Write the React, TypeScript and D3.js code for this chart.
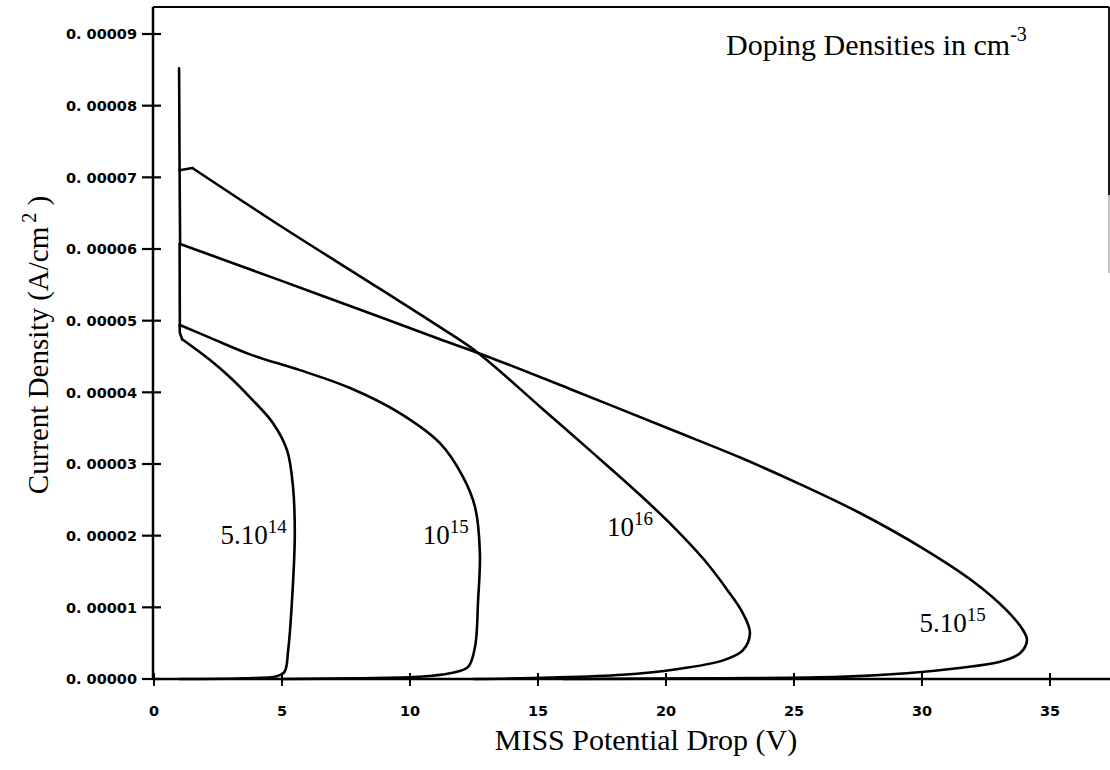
import React from "react";
import * as d3 from "d3";

// Tick values
const xTicks = [0, 5, 10, 15, 20, 25, 30, 35];
const yTicks = [0, 0.00001, 0.00002, 0.00003, 0.00004, 0.00005, 0.00006, 0.00007, 0.00008, 0.00009];
const yTickLabels = ["0. 00000", "0. 00001", "0. 00002", "0. 00003", "0. 00004", "0. 00005", "0. 00006", "0. 00007", "0. 00008", "0. 00009"];

// Curves: [V, A/cm2]
const curve5e14: [number, number][] = [
  [1.0, 4.94e-5], [1.01, 4.83e-5], [1.1, 4.74e-5], [2.19, 4.45e-5], [3.0, 4.2e-5], [3.75, 3.93e-5],
  [4.65, 3.57e-5], [5.2, 3.19e-5], [5.43, 2.68e-5], [5.5, 2.03e-5], [5.43, 1.34e-5],
  [5.24, 0.4e-5], [5.1, 0.1e-5], [4.8, 0.04e-5], [3.5, 0.01e-5], [1.0, 0.0],
];
const curve1e15: [number, number][] = [
  [1.0, 6.07e-5], [1.01, 4.94e-5], [2.2, 4.76e-5], [3.75, 4.53e-5], [5.7, 4.31e-5], [7.66, 4.06e-5],
  [9.6, 3.71e-5], [11.17, 3.29e-5], [12.07, 2.82e-5], [12.54, 2.4e-5], [12.73, 1.76e-5],
  [12.66, 1.1e-5], [12.54, 0.45e-5], [12.27, 0.17e-5], [11.56, 0.08e-5], [10.3, 0.03e-5],
  [8.0, 0.01e-5], [5.0, 0.0],
];
const curve5e15: [number, number][] = [
  [1.0, 7.1e-5], [1.02, 6.07e-5], [4.8, 5.58e-5], [8.83, 5.05e-5], [11.17, 4.74e-5], [12.66, 4.55e-5],
  [16.37, 4.03e-5], [20.27, 3.47e-5], [22.9, 3.09e-5], [25.23, 2.72e-5], [27.5, 2.33e-5],
  [30.0, 1.83e-5], [32.0, 1.36e-5], [33.3, 0.96e-5], [33.95, 0.68e-5], [34.1, 0.54e-5],
  [33.83, 0.36e-5], [33.05, 0.24e-5], [31.37, 0.15e-5], [29.4, 0.08e-5], [26.8, 0.03e-5],
  [22.0, 0.01e-5], [16.0, 0.0],
];
const curve1e16: [number, number][] = [
  [0.98, 8.52e-5], [1.0, 7.1e-5], [1.5, 7.13e-5], [4.73, 6.37e-5], [8.8, 5.45e-5], [11.17, 4.91e-5],
  [12.66, 4.55e-5], [15.08, 3.8e-5], [17.03, 3.19e-5], [18.98, 2.57e-5], [20.3, 2.12e-5],
  [21.5, 1.66e-5], [22.4, 1.24e-5], [23.0, 0.92e-5], [23.28, 0.64e-5], [23.0, 0.4e-5], [22.23, 0.26e-5],
  [20.27, 0.13e-5], [18.3, 0.06e-5], [15.5, 0.02e-5], [12.5, 0.0],
];
const curves = [curve5e14, curve1e15, curve5e15, curve1e16];
// index where the straight vertical start ends and the smooth part begins
const headEnds = [2, 1, 1, 2];

// Curve labels: [V, A/cm2, mantissa, exponent]
const curveLabels: [number, number, string, string][] = [
  [2.6, 1.88e-5, "5.10", "14"],
  [10.5, 1.88e-5, "10", "15"],
  [17.7, 2.0e-5, "10", "16"],
  [29.9, 0.65e-5, "5.10", "15"],
];

export default function App() {
  const x = d3.scaleLinear().domain([0, 35]).range([154, 1050]);
  const y = d3.scaleLinear().domain([0, 0.00009]).range([679, 34]);
  const smooth = d3
    .line<[number, number]>()
    .x((d) => x(d[0]))
    .y((d) => y(d[1]))
    .curve(d3.curveCatmullRom.alpha(0.5));
  const straight = d3
    .line<[number, number]>()
    .x((d) => x(d[0]))
    .y((d) => y(d[1]));

  const axisX = x(0) - 1;
  const tickFont = "'DejaVu Sans', sans-serif";
  const serif = "'Liberation Serif', 'Times New Roman', serif";

  return (
    <svg
      width={1110}
      height={770}
      style={{ position: "absolute", left: 0, top: 0, background: "#fff" }}
    >
      <rect x={0} y={0} width={1110} height={770} fill="#fff" />
      {/* frame */}
      <line x1={axisX} y1={7} x2={1109} y2={7} stroke="#000" strokeWidth={2.2} />
      <line x1={1109} y1={7} x2={1109} y2={195} stroke="#000" strokeWidth={1.8} />
      <line x1={1109} y1={195} x2={1109} y2={273} stroke="#999" strokeWidth={1.2} />
      {/* y axis */}
      <line x1={axisX} y1={7} x2={axisX} y2={y(0)} stroke="#000" strokeWidth={2.5} />
      {yTicks.map((t, i) => (
        <g key={"yt" + i}>
          <line x1={axisX - 11} x2={axisX + 8} y1={y(t)} y2={y(t)} stroke="#000" strokeWidth={2.2} />
          <text
            x={137}
            y={y(t)}
            dy="0.36em"
            textAnchor="end"
            fontFamily={tickFont}
            fontWeight="bold"
            fontSize={14.5}
            fill="#000"
          >
            {yTickLabels[i]}
          </text>
        </g>
      ))}
      {/* x axis */}
      <line x1={axisX} y1={y(0)} x2={1110} y2={y(0)} stroke="#000" strokeWidth={2.5} />
      {xTicks.map((t) => (
        <g key={"xt" + t}>
          <line x1={x(t)} x2={x(t)} y1={y(0) - 6} y2={y(0) + 7} stroke="#000" strokeWidth={2} />
          <text
            x={x(t)}
            y={716}
            textAnchor="middle"
            fontFamily={tickFont}
            fontWeight="bold"
            fontSize={14.5}
            fill="#000"
          >
            {t}
          </text>
        </g>
      ))}
      {/* curves */}
      {curves.map((c, i) => (
        <g key={"c" + i}>
          <path
            d={straight(c.slice(0, headEnds[i] + 1)) || ""}
            fill="none"
            stroke="#000"
            strokeWidth={2.6}
            strokeLinejoin="round"
            strokeLinecap="round"
          />
          <path
            d={smooth(c.slice(headEnds[i])) || ""}
            fill="none"
            stroke="#000"
            strokeWidth={2.6}
            strokeLinejoin="round"
            strokeLinecap="round"
          />
        </g>
      ))}
      {/* curve labels */}
      {curveLabels.map((l, i) => (
        <text key={"l" + i} x={x(l[0])} y={y(l[1])} fontFamily={serif} fontSize={27} fill="#000">
          {l[2]}
          <tspan fontSize={19} dy={-11}>
            {l[3]}
          </tspan>
        </text>
      ))}
      {/* annotation */}
      <text x={726} y={55} fontFamily={serif} fontSize={30} fill="#000">
        Doping Densities in cm
        <tspan fontSize={20} dy={-14}>
          -3
        </tspan>
      </text>
      {/* axis titles */}
      <text x={646} y={750} textAnchor="middle" fontFamily={serif} fontSize={30} fill="#000">
        MISS Potential Drop (V)
      </text>
      <text
        transform="translate(48,345) rotate(-90)"
        textAnchor="middle"
        fontFamily={serif}
        fontSize={29}
        fill="#000"
      >
        Current Density (A/cm
        <tspan fontSize={20} dy={-12} dx={4}>
          2
        </tspan>
        <tspan dy={12}> )</tspan>
      </text>
    </svg>
  );
}
